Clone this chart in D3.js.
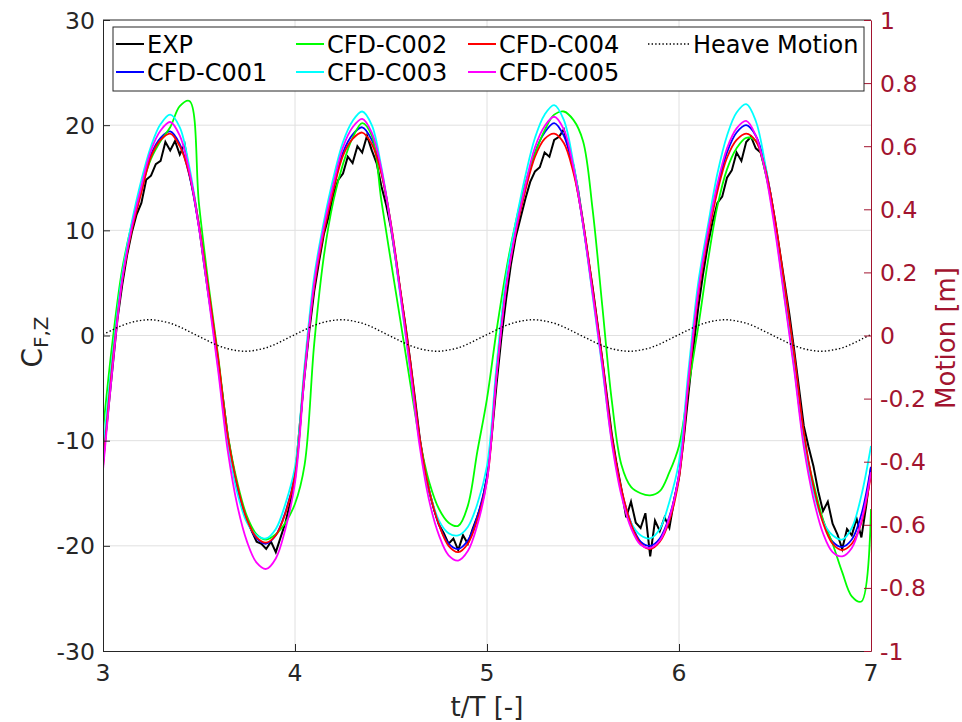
<!DOCTYPE html>
<html>
<head>
<meta charset="utf-8">
<script src="https://cdn.jsdelivr.net/npm/d3@7"></script>
<style>
    body { margin: 0; background: #ffffff; }
    svg text { font-family: "DejaVu Sans", sans-serif; }
</style>
</head>
<body>
<div id="chart-div"></div>
<script>

// t/T sample points of the CFD runs and the heave signal
const tCfd = [3, 3.05, 3.1, 3.15, 3.2, 3.25, 3.3, 3.35, 3.4, 3.45, 3.5, 3.55, 3.6, 3.65, 3.7, 3.75, 3.8, 3.85, 3.9, 3.95,
    4, 4.05, 4.1, 4.15, 4.2, 4.25, 4.3, 4.35, 4.4, 4.45, 4.5, 4.55, 4.6, 4.65, 4.7, 4.75, 4.8, 4.85, 4.9, 4.95,
    5, 5.05, 5.1, 5.15, 5.2, 5.25, 5.3, 5.35, 5.4, 5.45, 5.5, 5.55, 5.6, 5.65, 5.7, 5.75, 5.8, 5.85, 5.9, 5.95,
    6, 6.05, 6.1, 6.15, 6.2, 6.25, 6.3, 6.35, 6.4, 6.45, 6.5, 6.55, 6.6, 6.65, 6.7, 6.75, 6.8, 6.85, 6.9, 6.95, 7];

const cfdC001 = [-12.0, -2.3, 5.4, 10.2, 13.8, 17.2, 18.8, 19.4, 18.2, 15.2, 10.3, 4.0, -2.5, -9.8, -14.5, -17.6, -19.3, -19.8, -19.0, -16.8,
    -13.2, -3.4, 4.8, 10.0, 14.0, 17.4, 19.1, 19.8, 18.6, 15.5, 10.5, 4.0, -2.6, -9.9, -14.8, -18.0, -19.8, -20.3, -19.5, -17.2,
    -13.4, -3.6, 4.8, 10.0, 14.0, 17.4, 19.3, 20.2, 19.0, 15.8, 10.6, 4.2, -2.4, -9.8, -14.7, -17.8, -19.6, -20.0, -19.3, -17.2,
    -13.2, -4.2, 4.0, 9.6, 14.0, 17.4, 19.3, 20.0, 19.0, 16.0, 10.8, 4.4, -2.0, -9.4, -14.4, -17.6, -19.6, -20.1, -19.4, -17.0, -12.5];

const cfdC002 = [-9.0, -0.5, 6.3, 10.6, 14.0, 16.8, 18.5, 19.8, 21.8, 22.3, 12.5, 4.8, -2.0, -9.4, -14.0, -17.2, -18.9, -19.4, -18.9, -17.8,
    -16.0, -12.3, -0.8, 7.5, 12.8, 16.3, 18.8, 20.2, 19.0, 12.8, 7.0, 1.3, -4.5, -10.0, -14.0, -16.5, -17.8, -18.1, -16.2, -11.0,
    -6.0, 0.5, 6.2, 10.8, 14.5, 17.3, 19.5, 21.0, 21.3, 20.5, 18.5, 12.0, 2.9, -6.2, -12.3, -14.4, -15.0, -15.2, -14.8, -13.0,
    -10.5, -4.8, 0.8, 7.0, 12.3, 15.8, 17.8, 18.8, 18.5, 15.5, 10.5, 4.0, -2.8, -10.0, -14.0, -17.5, -19.8, -22.5, -24.8, -25.3, -16.5];

const cfdC003 = [-11.2, -1.8, 5.8, 10.8, 14.8, 18.0, 20.1, 21.0, 19.8, 16.0, 10.5, 3.8, -3.0, -10.2, -15.0, -17.8, -19.0, -19.3, -18.4, -16.0,
    -12.5, -2.8, 5.6, 10.8, 15.0, 18.4, 20.4, 21.3, 20.0, 16.0, 10.4, 3.6, -3.2, -10.2, -14.8, -17.6, -18.8, -19.0, -18.2, -16.0,
    -12.4, -2.8, 5.6, 10.8, 15.2, 18.8, 21.0, 21.9, 20.5, 16.4, 10.6, 3.8, -3.0, -10.0, -14.8, -17.8, -19.0, -19.3, -18.4, -15.8,
    -12.0, -3.2, 5.0, 10.4, 15.4, 19.0, 21.2, 22.0, 20.4, 16.2, 10.4, 3.6, -3.0, -10.0, -14.8, -17.7, -19.0, -19.4, -18.3, -15.2, -10.5];

const cfdC004 = [-12.5, -2.5, 5.2, 10.0, 13.6, 17.0, 18.6, 19.2, 18.0, 15.3, 10.5, 4.3, -2.2, -9.6, -14.3, -17.5, -19.2, -19.7, -19.0, -16.9,
    -13.3, -3.5, 4.6, 9.8, 13.8, 17.1, 18.7, 19.3, 18.2, 15.4, 10.6, 4.2, -2.4, -9.8, -14.8, -18.0, -20.0, -20.6, -19.8, -17.5,
    -13.8, -3.8, 4.6, 9.8, 13.8, 17.0, 18.7, 19.2, 18.3, 15.5, 10.8, 4.5, -2.2, -9.6, -14.6, -17.9, -19.8, -20.3, -19.6, -17.6,
    -13.6, -4.5, 3.8, 9.3, 13.7, 16.9, 18.6, 19.2, 18.5, 15.8, 11.0, 4.8, -1.8, -9.2, -14.3, -17.8, -19.8, -20.4, -19.8, -17.8, -13.2];

const cfdC005 = [-12.8, -3.0, 5.3, 10.3, 14.2, 17.6, 19.5, 20.3, 19.0, 15.6, 10.2, 3.6, -3.4, -11.0, -16.2, -19.6, -21.6, -22.2, -21.2, -18.4,
    -14.0, -3.8, 5.0, 10.3, 14.4, 17.9, 19.8, 20.6, 19.3, 15.8, 10.4, 3.8, -3.2, -10.6, -15.8, -19.0, -20.9, -21.4, -20.5, -18.0,
    -13.8, -3.8, 4.6, 10.0, 14.3, 17.9, 19.9, 20.8, 19.6, 16.0, 10.6, 4.0, -2.8, -10.2, -15.2, -18.3, -19.9, -20.2, -19.5, -17.3,
    -13.2, -4.0, 4.2, 9.8, 14.4, 17.8, 19.7, 20.4, 19.0, 15.5, 10.0, 3.4, -3.3, -10.6, -15.5, -18.8, -20.6, -21.0, -20.2, -17.6, -13.0];

// heave motion [m], right axis
const heaveMotion = [0.003, 0.018, 0.032, 0.042, 0.048, 0.050, 0.046, 0.039, 0.027, 0.012, -0.003, -0.018, -0.032, -0.042, -0.048, -0.050, -0.046, -0.039, -0.027, -0.012,
    0.003, 0.018, 0.032, 0.042, 0.048, 0.050, 0.046, 0.039, 0.027, 0.012, -0.003, -0.018, -0.032, -0.042, -0.048, -0.050, -0.046, -0.039, -0.027, -0.012,
    0.003, 0.018, 0.032, 0.042, 0.048, 0.050, 0.046, 0.039, 0.027, 0.012, -0.003, -0.018, -0.032, -0.042, -0.048, -0.050, -0.046, -0.039, -0.027, -0.012,
    0.003, 0.018, 0.032, 0.042, 0.048, 0.050, 0.046, 0.039, 0.027, 0.012, -0.003, -0.018, -0.032, -0.042, -0.048, -0.050, -0.046, -0.039, -0.027, -0.012, 0.003];

// experiment is sampled finer
const tExp = [3, 3.025, 3.05, 3.075, 3.1, 3.125, 3.15, 3.175, 3.2, 3.225, 3.25, 3.275, 3.3, 3.325, 3.35, 3.375, 3.4, 3.425, 3.45, 3.475,
    3.5, 3.525, 3.55, 3.575, 3.6, 3.625, 3.65, 3.675, 3.7, 3.725, 3.75, 3.775, 3.8, 3.825, 3.85, 3.875, 3.9, 3.925, 3.95, 3.975,
    4, 4.025, 4.05, 4.075, 4.1, 4.125, 4.15, 4.175, 4.2, 4.225, 4.25, 4.275, 4.3, 4.325, 4.35, 4.375, 4.4, 4.425, 4.45, 4.475,
    4.5, 4.525, 4.55, 4.575, 4.6, 4.625, 4.65, 4.675, 4.7, 4.725, 4.75, 4.775, 4.8, 4.825, 4.85, 4.875, 4.9, 4.925, 4.95, 4.975,
    5, 5.025, 5.05, 5.075, 5.1, 5.125, 5.15, 5.175, 5.2, 5.225, 5.25, 5.275, 5.3, 5.325, 5.35, 5.375, 5.4, 5.425, 5.45, 5.475,
    5.5, 5.525, 5.55, 5.575, 5.6, 5.625, 5.65, 5.675, 5.7, 5.725, 5.75, 5.775, 5.8, 5.825, 5.85, 5.875, 5.9, 5.925, 5.95, 5.975,
    6, 6.025, 6.05, 6.075, 6.1, 6.125, 6.15, 6.175, 6.2, 6.225, 6.25, 6.275, 6.3, 6.325, 6.35, 6.375, 6.4, 6.425, 6.45, 6.475,
    6.5, 6.525, 6.55, 6.575, 6.6, 6.625, 6.65, 6.675, 6.7, 6.725, 6.75, 6.775, 6.8, 6.825, 6.85, 6.875, 6.9, 6.925, 6.95, 6.975, 7];

const expData = [-12.0, -7.5, -3.0, 1.5, 4.8, 7.6, 9.8, 11.5, 12.6, 14.8, 15.2, 16.3, 16.6, 18.4, 17.6, 18.5, 17.2, 18.2, 15.4, 13.2,
    10.4, 7.0, 3.8, 0.8, -2.5, -6.0, -9.6, -12.2, -14.5, -16.4, -17.5, -18.6, -19.6, -19.8, -20.3, -19.6, -20.6, -19.2, -17.8, -15.9,
    -13.6, -8.5, -3.8, 0.5, 4.2, 7.0, 9.6, 11.3, 13.4, 14.8, 15.4, 17.0, 16.4, 18.0, 17.4, 19.0, 17.6, 16.4, 14.2, 12.4,
    10.2, 7.2, 4.0, 1.0, -2.4, -6.0, -9.8, -12.6, -14.9, -16.6, -18.0, -18.8, -19.8, -19.3, -20.4, -19.0, -19.8, -18.4, -17.2, -15.8,
    -13.5, -9.5, -4.6, -0.2, 3.5, 6.8, 9.4, 11.2, 13.0, 14.6, 15.6, 16.0, 17.4, 17.0, 18.6, 18.9, 19.6, 17.8, 16.2, 13.8,
    10.8, 7.6, 4.6, 1.2, -2.2, -5.8, -9.4, -12.2, -14.6, -17.3, -15.8, -17.8, -18.3, -16.9, -21.0, -17.6, -18.6, -17.3, -18.3, -15.6,
    -13.5, -9.8, -5.4, -1.2, 2.6, 5.8, 8.6, 10.8, 12.6, 13.2, 15.0, 15.7, 17.4, 16.6, 18.4, 18.9, 17.8, 17.4, 15.6, 13.6,
    11.0, 8.0, 5.0, 2.0, -1.4, -5.0, -8.6, -10.6, -12.4, -14.8, -16.7, -15.8, -17.9, -18.9, -20.3, -18.4, -19.0, -17.4, -19.2, -16.2, -12.5];

const seriesNames = ["EXP", "CFD-C001", "CFD-C002", "CFD-C003", "CFD-C004", "CFD-C005", "Heave Motion"];
const xTicks = [3, 4, 5, 6, 7];
const yTicksLeft = [-30, -20, -10, 0, 10, 20, 30];
const yTicksRight = [-1, -0.8, -0.6, -0.4, -0.2, 0, 0.2, 0.4, 0.6, 0.8, 1];

class ForceChart {
    constructor() {

        this.width = 962;
        this.height = 722;
        this.plot = { left: 103, right: 871, top: 20, bottom: 651 };
        this.motionColor = "#A2142F";
        this.axisColor = "#262626";
        this.colors = ["#000000", "#0000ff", "#00ff00", "#00ffff", "#ff0000", "#ff00ff"];

        this.svg = d3.select("#chart-div")
            .append("svg")
            .attr("width", this.width)
            .attr("height", this.height);

        // scales
        this.x = d3.scaleLinear().domain([3, 7]).range([this.plot.left, this.plot.right]);
        this.y = d3.scaleLinear().domain([-30, 30]).range([this.plot.bottom, this.plot.top]);
        this.yRight = d3.scaleLinear().domain([-1, 1]).range([this.plot.bottom, this.plot.top]);

        this.svg.append("clipPath")
            .attr("id", "plot-clip")
            .append("rect")
            .attr("x", this.plot.left)
            .attr("y", this.plot.top)
            .attr("width", this.plot.right - this.plot.left)
            .attr("height", this.plot.bottom - this.plot.top);

        this.DrawGrid();
        this.DrawLines();
        this.DrawAxis();
        this.DrawLegend();
    }

    DrawGrid() {
        let grid = this.svg.append("g").attr("class", "grid");

        grid.selectAll(".vgrid")
            .data(xTicks.slice(1, -1))
            .join("line")
            .attr("x1", d => this.x(d)).attr("x2", d => this.x(d))
            .attr("y1", this.plot.top).attr("y2", this.plot.bottom)
            .attr("stroke", "#e0e0e0");

        grid.selectAll(".hgrid")
            .data(yTicksLeft.slice(1, -1))
            .join("line")
            .attr("x1", this.plot.left).attr("x2", this.plot.right)
            .attr("y1", d => this.y(d)).attr("y2", d => this.y(d))
            .attr("stroke", "#e0e0e0");
    }

    DrawLines() {
        let g = this.svg.append("g").attr("clip-path", "url(#plot-clip)");

        let smooth = d3.line()
            .x(d => this.x(d[0]))
            .y(d => this.y(d[1]))
            .curve(d3.curveCatmullRom.alpha(0.5));

        let raw = d3.line()
            .x(d => this.x(d[0]))
            .y(d => this.y(d[1]));

        // experiment first, CFD runs on top
        g.append("path")
            .attr("d", raw(d3.zip(tExp, expData)))
            .attr("fill", "none")
            .attr("stroke", this.colors[0])
            .attr("stroke-width", 2);

        let runs = [cfdC001, cfdC002, cfdC003, cfdC004, cfdC005];
        runs.forEach((vals, i) => {
            g.append("path")
                .attr("d", smooth(d3.zip(tCfd, vals)))
                .attr("fill", "none")
                .attr("stroke", this.colors[i + 1])
                .attr("stroke-width", 1.8);
        });

        // heave on the right axis
        let heave = d3.line()
            .x(d => this.x(d[0]))
            .y(d => this.yRight(d[1]))
            .curve(d3.curveCatmullRom.alpha(0.5));

        g.append("path")
            .attr("d", heave(d3.zip(tCfd, heaveMotion)))
            .attr("fill", "none")
            .attr("stroke", "#000000")
            .attr("stroke-width", 1.4)
            .attr("stroke-dasharray", "1.4,2.2");
    }

    DrawAxis() {
        let fmt = d => String(d);
        let fs = "23.5px";

        // bottom axis, ticks point inward
        let bottom = this.svg.append("g")
            .attr("transform", "translate(0," + this.plot.bottom + ")")
            .call(d3.axisTop(this.x).tickValues(xTicks).tickFormat("").tickSizeOuter(0).tickSizeInner(7));
        bottom.select(".domain").attr("stroke", this.axisColor);
        bottom.selectAll(".tick line").attr("stroke", this.axisColor);

        this.svg.append("g")
            .selectAll("text")
            .data(xTicks)
            .join("text")
            .attr("x", d => this.x(d))
            .attr("y", this.plot.bottom + 30)
            .attr("text-anchor", "middle")
            .attr("fill", this.axisColor)
            .style("font-size", fs)
            .text(fmt);

        // top box line
        this.svg.append("line")
            .attr("x1", this.plot.left).attr("x2", this.plot.right)
            .attr("y1", this.plot.top).attr("y2", this.plot.top)
            .attr("stroke", this.axisColor);

        // left axis
        let left = this.svg.append("g")
            .attr("transform", "translate(" + this.plot.left + ",0)")
            .call(d3.axisRight(this.y).tickValues(yTicksLeft).tickFormat("").tickSizeOuter(0).tickSizeInner(7));
        left.select(".domain").attr("stroke", this.axisColor);
        left.selectAll(".tick line").attr("stroke", this.axisColor);

        this.svg.append("g")
            .selectAll("text")
            .data(yTicksLeft)
            .join("text")
            .attr("x", this.plot.left - 8)
            .attr("y", d => this.y(d) + 8.5)
            .attr("text-anchor", "end")
            .attr("fill", this.axisColor)
            .style("font-size", fs)
            .text(fmt);

        // right axis (motion)
        let right = this.svg.append("g")
            .attr("transform", "translate(" + this.plot.right + ",0)")
            .call(d3.axisLeft(this.yRight).tickValues(yTicksRight).tickFormat("").tickSizeOuter(0).tickSizeInner(7));
        right.select(".domain").attr("stroke", this.motionColor);
        right.selectAll(".tick line").attr("stroke", this.motionColor);

        this.svg.append("g")
            .selectAll("text")
            .data(yTicksRight)
            .join("text")
            .attr("x", this.plot.right + 9)
            .attr("y", d => this.yRight(d) + 8.5)
            .attr("fill", this.motionColor)
            .style("font-size", fs)
            .text(fmt);

        // axis labels
        this.svg.append("text")
            .attr("x", (this.plot.left + this.plot.right) / 2)
            .attr("y", 716)
            .attr("text-anchor", "middle")
            .attr("fill", this.axisColor)
            .style("font-size", "26px")
            .text("t/T [-]");

        let cfz = this.svg.append("text")
            .attr("transform", "translate(42,342) rotate(-90)")
            .attr("text-anchor", "middle")
            .attr("fill", this.axisColor)
            .style("font-size", "28px");
        cfz.append("tspan").text("C");
        cfz.append("tspan")
            .attr("dy", 6)
            .style("font-size", "20px")
            .text("F,Z");

        this.svg.append("text")
            .attr("transform", "translate(955,338) rotate(-90)")
            .attr("text-anchor", "middle")
            .attr("fill", this.motionColor)
            .style("font-size", "26px")
            .text("Motion [m]");
    }

    DrawLegend() {
        let box = { x: 113, y: 27, w: 751, h: 64 };
        let cols = [116, 296, 468, 648];
        let rows = [44, 72];
        let lineLen = 28;
        // legend slots: column-major like matlab with 4 columns
        let slots = [[0, 0], [0, 1], [1, 0], [1, 1], [2, 0], [2, 1], [3, 0]];

        let legend = this.svg.append("g").attr("class", "legend");

        legend.append("rect")
            .attr("x", box.x).attr("y", box.y)
            .attr("width", box.w).attr("height", box.h)
            .attr("fill", "#ffffff")
            .attr("stroke", this.axisColor);

        seriesNames.forEach((name, i) => {
            let cx = cols[slots[i][0]];
            let cy = rows[slots[i][1]];
            let isHeave = i === 6;
            let len = isHeave ? 42 : lineLen;

            legend.append("line")
                .attr("x1", cx).attr("x2", cx + len)
                .attr("y1", cy).attr("y2", cy)
                .attr("stroke", isHeave ? "#000000" : this.colors[i])
                .attr("stroke-width", isHeave ? 1.4 : 2)
                .attr("stroke-dasharray", isHeave ? "1.4,2.2" : null);

            legend.append("text")
                .attr("x", cx + len + 3)
                .attr("y", cy + 8.5)
                .attr("fill", "#000000")
                .style("font-size", "24px")
                .text(name);
        });
    }
}

new ForceChart();
</script>
</body>
</html>
